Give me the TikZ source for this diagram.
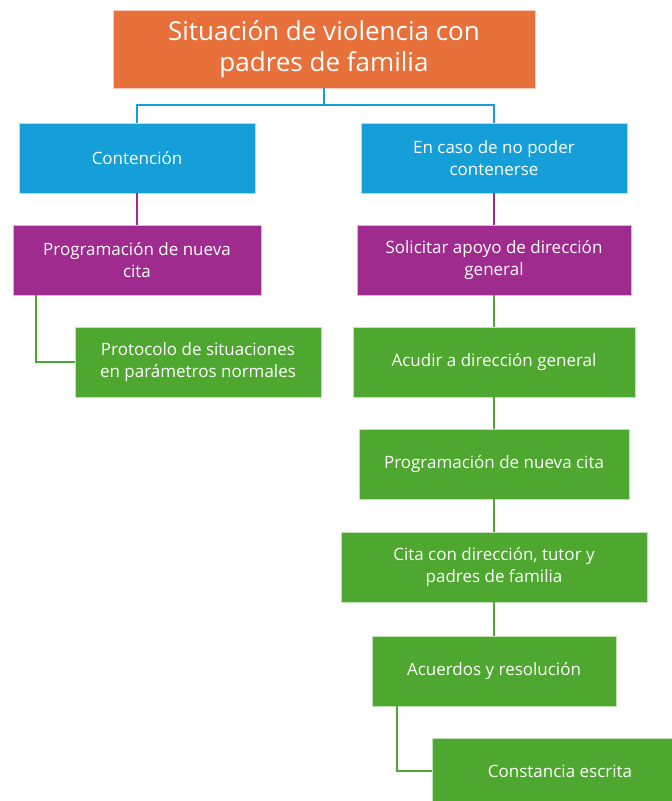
\documentclass[tikz,border=0pt]{standalone}
\usepackage{fontspec}
\setmainfont{Open Sans}
\usetikzlibrary{positioning}

\definecolor{naranja}{HTML}{E8703A}
\definecolor{azul}{HTML}{159FD8}
\definecolor{morado}{HTML}{A02B8E}
\definecolor{verde}{HTML}{4EA72E}

\begin{document}
\begin{tikzpicture}[
    x=1pt, y=-1pt,
    caja/.style={
        rectangle,
        draw=white!65!#1,
        fill=#1,
        text=white,
        align=center,
        inner sep=0pt,
        minimum height=70pt,
        font=\fontsize{17}{22}\selectfont,
    },
    caja titulo/.style={
        caja=naranja,
        minimum width=422pt,
        minimum height=78pt,
        font=\fontsize{26}{31}\selectfont,
    },
    linea/.style={draw=#1, line width=2pt}
]
\useasboundingbox (0,0) rectangle (672,801);
\clip (0,0) rectangle (672,801);

\node[caja titulo] (titulo) at (324,49) {Situación de violencia con\\padres de familia};

% rama izquierda
\node[caja=azul, minimum width=236pt] (contencion) at (137,158) {Contención};
\node[caja=morado, minimum width=248pt] (programacion) at (137,260) {Programación de nueva\\cita};
\node[caja=verde, minimum width=246pt] (protocolo) at (198,362) {Protocolo de situaciones\\en parámetros normales};

% rama derecha
\node[caja=azul, minimum width=266pt] (nocontener) at (494,158) {En caso de no poder\\contenerse};
\node[caja=morado, minimum width=274pt] (solicitar) at (494,260) {Solicitar apoyo de dirección\\general};
\node[caja=verde, minimum width=282pt] (acudir) at (494,362) {Acudir a dirección general};
\node[caja=verde, minimum width=270pt] (nuevacita) at (494,464) {Programación de nueva cita};
\node[caja=verde, minimum width=306pt] (cita) at (494,567) {Cita con dirección, tutor y\\padres de familia};
\node[caja=verde, minimum width=244pt] (acuerdos) at (494,671) {Acuerdos y resolución};
\node[caja=verde, minimum width=256pt, minimum height=66pt] (constancia) at (560,771) {Constancia escrita};

\draw[linea=azul] (titulo.south) -- ++(0,17) -| (contencion.north);
\draw[linea=azul] (titulo.south) -- ++(0,17) -| (nocontener.north);

\draw[linea=morado] (contencion.south) -- (programacion.north);
\draw[linea=verde] (programacion.south west) ++(23,0) |- (protocolo.west);

\draw[linea=morado] (nocontener.south) -- (solicitar.north);
\draw[linea=verde] (solicitar.south) -- (acudir.north);
\draw[linea=verde] (acudir.south) -- (nuevacita.north);
\draw[linea=verde] (nuevacita.south) -- (cita.north);
\draw[linea=verde] (cita.south) -- (acuerdos.north);
\draw[linea=verde] (acuerdos.south west) ++(25,0) |- (constancia.west);
\end{tikzpicture}
\end{document}
